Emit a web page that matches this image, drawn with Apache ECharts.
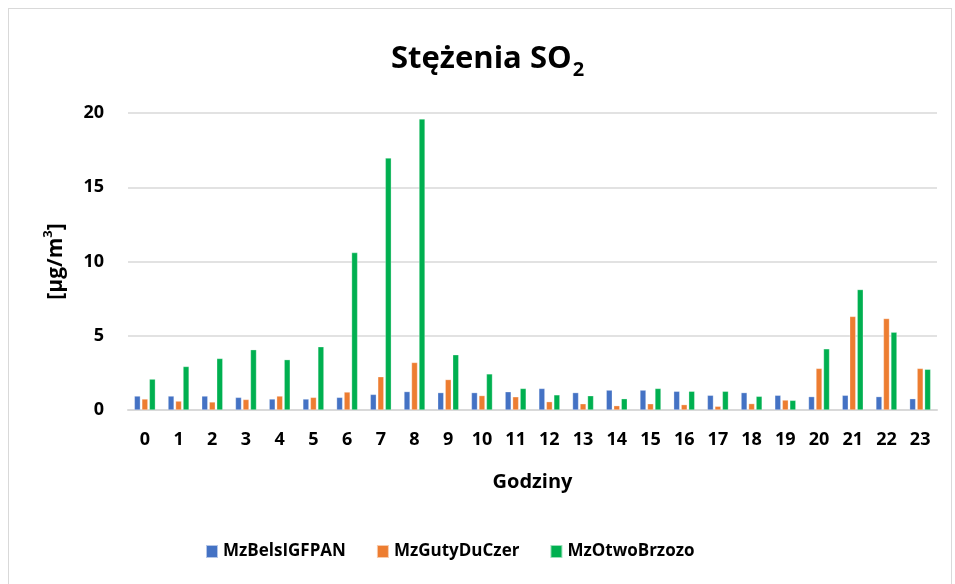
<!DOCTYPE html>
<html>
<head>
<meta charset="utf-8">
<script src="https://cdn.jsdelivr.net/npm/echarts@6/dist/echarts.min.js"></script>
<style>
  html, body { margin: 0; padding: 0; background: #fff; }
  #frame { position: absolute; left: 8px; top: 8px; width: 944px; height: 580px; border: 1px solid #d9d9d9; box-sizing: border-box; }
  #chart { position: absolute; left: 0; top: 0; width: 955px; height: 584px; }
</style>
</head>
<body>
<div id="frame"></div>
<div id="chart"></div>
<script>
// godziny 0-23
const hours = ['0','1','2','3','4','5','6','7','8','9','10','11','12','13','14','15','16','17','18','19','20','21','22','23']
const belsIGFPAN = [0.94, 0.94, 0.94, 0.85, 0.74, 0.74, 0.85, 1.05, 1.24, 1.17, 1.17, 1.23, 1.45, 1.17, 1.34, 1.34, 1.26, 0.99, 1.17, 0.99, 0.9, 0.99, 0.9, 0.76]
const gutyDuCzer = [0.74, 0.6, 0.54, 0.71, 0.94, 0.85, 1.21, 2.24, 3.2, 2.05, 0.97, 0.89, 0.56, 0.42, 0.29, 0.42, 0.36, 0.25, 0.43, 0.67, 2.8, 6.3, 6.16, 2.8]
const otwoBrzozo = [2.08, 2.93, 3.47, 4.06, 3.39, 4.26, 10.6, 16.97, 19.6, 3.72, 2.43, 1.45, 1.02, 0.96, 0.76, 1.45, 1.26, 1.26, 0.92, 0.65, 4.12, 8.11, 5.24, 2.74]
const seriesNames = ['MzBelsIGFPAN', 'MzGutyDuCzer', 'MzOtwoBrzozo']
const yTicks = { min: 0, max: 20, interval: 5 }

const FONT = 'Open Sans'
const COLORS = ['#4472C4', '#ED7D31', '#00B050']
const chart = echarts.init(document.getElementById('chart'))

const txt = (size, extra) => Object.assign({ fontSize: size, fontWeight: 'bold', color: '#000', fontFamily: FONT }, extra || {})

chart.setOption({
  animation: false,
  textStyle: { fontFamily: FONT },
  color: COLORS,
  title: {
    text: '{a|Stężenia SO}{b|2}',
    left: 386,
    top: 32,
    textStyle: {
      rich: {
        a: txt(31, { lineHeight: 44 }),
        b: txt(20, { lineHeight: 44, padding: [22, 0, 0, 1] })
      }
    }
  },
  legend: {
    bottom: 19,
    left: 200,
    itemWidth: 12,
    itemHeight: 13,
    itemGap: 30,
    icon: 'rect',
    textStyle: txt(17)
  },
  grid: { left: 128, right: 18, top: 113, bottom: 174 },
  xAxis: {
    type: 'category',
    data: hours,
    name: '{a|Godziny}',
    nameLocation: 'middle',
    nameGap: 62,
    nameTextStyle: { rich: { a: txt(20) } },
    axisLine: { lineStyle: { color: '#d9d9d9', width: 2 } },
    axisTick: { show: false },
    axisLabel: txt(18, { margin: 21 })
  },
  yAxis: {
    type: 'value',
    min: yTicks.min,
    max: yTicks.max,
    interval: yTicks.interval,
    name: '{a|[µg/m}{s|3}{a|]}',
    nameLocation: 'middle',
    nameRotate: 90,
    nameGap: 58,
    nameTextStyle: {
      rich: {
        a: txt(21, { lineHeight: 28 }),
        s: txt(13, { lineHeight: 14, verticalAlign: 'top' })
      }
    },
    axisLine: { show: false },
    axisTick: { show: false },
    axisLabel: txt(18, { margin: 24 }),
    splitLine: { lineStyle: { color: '#d9d9d9', width: 1.5 } }
  },
  series: [belsIGFPAN, gutyDuCzer, otwoBrzozo].map((data, i) => ({
    name: seriesNames[i],
    type: 'bar',
    data: data,
    barWidth: 6,
    barGap: '25%',
    itemStyle: { color: COLORS[i], borderColor: 'rgba(255,255,255,0.6)', borderWidth: 0.5 }
  }))
})
</script>
</body>
</html>
